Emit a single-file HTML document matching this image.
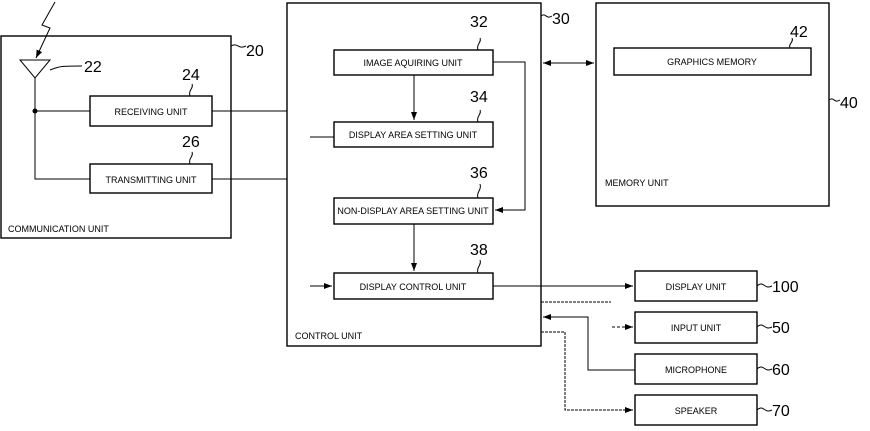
<!DOCTYPE html>
<html><head><style>
body{margin:0;background:#fff}
svg text{font-family:"Liberation Sans",sans-serif}
.b{fill:none;stroke:#000;stroke-width:1.4}
.l{fill:none;stroke:#000;stroke-width:1}
.t{font-size:9px;text-anchor:middle}
.n{font-size:16px}
</style></head><body>
<svg width="870" height="426" viewBox="0 0 870 426" xmlns="http://www.w3.org/2000/svg">
<defs><marker id="a" markerWidth="8" markerHeight="6" refX="8" refY="3" orient="auto"><path d="M0,0L8,3L0,6z"/></marker></defs>
<rect class="b" x="1" y="36" width="230" height="202"/>
<rect class="b" x="287" y="3" width="254" height="343"/>
<rect class="b" x="596" y="3" width="233" height="203"/>
<rect class="b" x="90" y="96" width="122" height="30"/>
<rect class="b" x="90" y="164" width="122" height="29"/>
<rect class="b" x="334" y="50" width="159" height="25"/>
<rect class="b" x="334" y="122" width="159" height="25"/>
<rect class="b" x="334" y="198" width="159" height="26"/>
<rect class="b" x="334" y="273" width="159" height="26"/>
<rect class="b" x="614" y="48" width="197" height="27"/>
<rect class="b" x="635" y="271" width="122" height="30"/>
<rect class="b" x="635" y="312" width="122" height="31"/>
<rect class="b" x="635" y="354" width="122" height="30"/>
<rect class="b" x="635" y="395" width="122" height="30"/>
<g class="t">
<text x="151" y="115">RECEIVING UNIT</text>
<text x="151" y="183">TRANSMITTING UNIT</text>
<text x="413" y="66">IMAGE AQUIRING UNIT</text>
<text x="413" y="138">DISPLAY AREA SETTING UNIT</text>
<text x="413" y="214">NON-DISPLAY AREA SETTING UNIT</text>
<text x="413" y="290">DISPLAY CONTROL UNIT</text>
<text x="712" y="65">GRAPHICS MEMORY</text>
<text x="696" y="290">DISPLAY UNIT</text>
<text x="696" y="331">INPUT UNIT</text>
<text x="696" y="373">MICROPHONE</text>
<text x="696" y="414">SPEAKER</text>
</g>
<g style="font-size:9px">
<text x="8" y="232">COMMUNICATION UNIT</text>
<text x="295" y="339">CONTROL UNIT</text>
<text x="605" y="186">MEMORY UNIT</text>
</g>
<path class="l" d="M20,60L50,60L35,78z"/>
<path class="l" d="M35,78V179H90M35,111H90M212,111H287M212,179H287"/>
<circle cx="35" cy="111" r="2.5"/>
<path class="l" d="M55,2L42,25L50,28L36,58" marker-end="url(#a)"/>
<path class="l" d="M414,75V120" marker-end="url(#a)"/>
<path class="l" d="M414,224V271" marker-end="url(#a)"/>
<path class="l" d="M493,62H525V210H495" marker-end="url(#a)"/>
<path class="l" d="M310,137H334"/>
<path class="l" d="M310,286H332" marker-end="url(#a)"/>
<path class="l" d="M543,63H594" marker-start="url(#a)" marker-end="url(#a)" style="marker-start:none"/>
<path class="l" d="M568,63H543" marker-end="url(#a)"/>
<path class="l" d="M493,286H633" marker-end="url(#a)"/>
<path class="l" d="M541,302H611" stroke-dasharray="3,1"/>
<path class="l" d="M635,370H588V317H543" marker-end="url(#a)"/>
<path class="l" d="M612,327H633" stroke-dasharray="3,2" marker-end="url(#a)"/>
<path class="l" d="M541,332H565V410H633" stroke-dasharray="3,1" marker-end="url(#a)"/>
<g class="l">
<path d="M50,70C60,66 62,66 82,66"/>
<path d="M231,46C238,42 238,50 246,46"/>
<path d="M541,16C546,12 546,20 552,16"/>
<path d="M829,100C834,96 834,104 840,100"/>
<path d="M757,286C764,280 764,290 772,286"/>
<path d="M757,327C764,321 764,331 772,327"/>
<path d="M757,369C764,363 764,373 772,369"/>
<path d="M757,410C764,404 764,414 772,410"/>
<path d="M190,96C188,90 194,88 192,84"/>
<path d="M190,164C188,158 194,156 192,152"/>
<path d="M478,50C476,44 482,42 480,38"/>
<path d="M478,122C476,116 482,114 480,110"/>
<path d="M478,198C476,192 482,190 480,184"/>
<path d="M478,273C476,267 482,265 480,260"/>
<path d="M790,48C788,44 794,42 792,38"/>
</g>
<g class="n">
<text x="84" y="72">22</text>
<text x="246" y="56">20</text>
<text x="182" y="80">24</text>
<text x="182" y="147">26</text>
<text x="470" y="27">32</text>
<text x="470" y="102">34</text>
<text x="470" y="178">36</text>
<text x="470" y="255">38</text>
<text x="552" y="24">30</text>
<text x="790" y="37">42</text>
<text x="840" y="108">40</text>
<text x="772" y="292">100</text>
<text x="772" y="333">50</text>
<text x="772" y="375">60</text>
<text x="772" y="416">70</text>
</g>
</svg>
</body></html>
